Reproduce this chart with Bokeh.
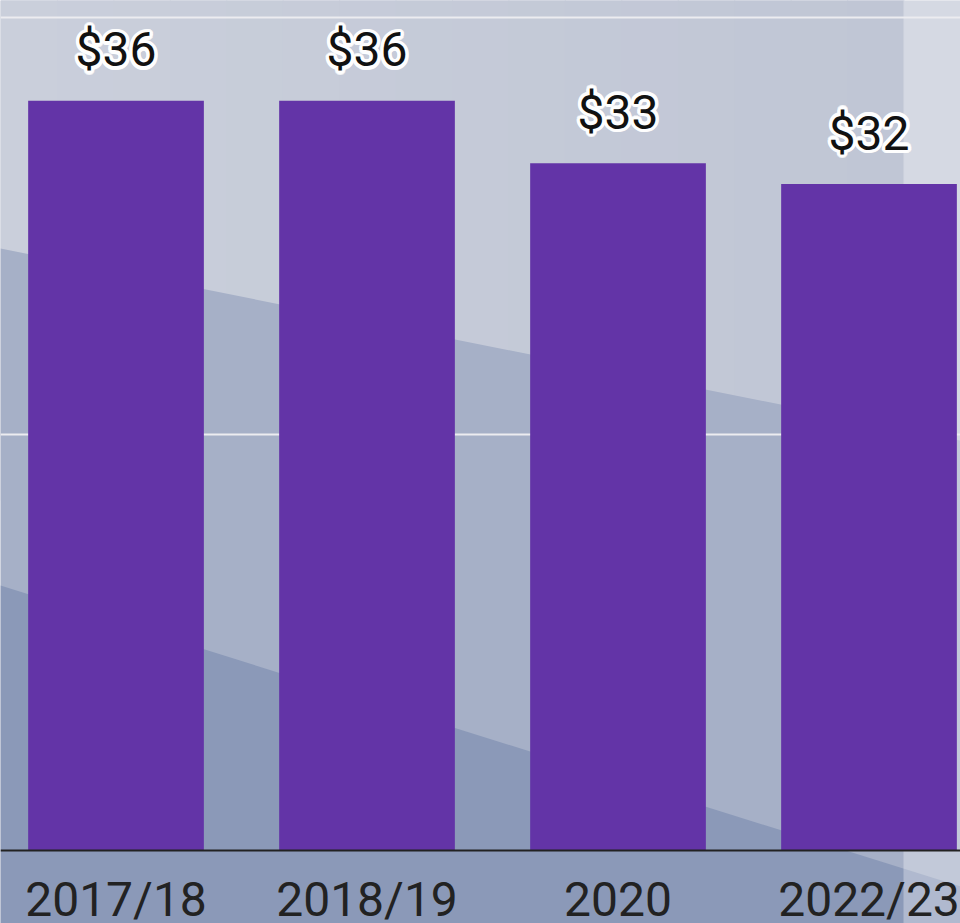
import math
from bokeh.plotting import figure
from bokeh.models import ColumnDataSource, FixedTicker, Grid, Range1d
from bokeh.core.properties import value
from bokeh.embed import file_html
from bokeh.resources import INLINE

# ---- data ----
categories = ["2017/18", "2018/19", "2020", "2022/23"]
values = [36, 36, 33, 32]
value_labels = ["$36", "$36", "$33", "$32"]
grid_values = [20, 40]

# ---- layout ----
W, H = 960, 923
BASE_PX = 850          # pixel row of the value 0
PX_PER_UNIT = 20.825
X_START, X_END = -0.4602, 3.3645
Y_END = BASE_PX / PX_PER_UNIT
Y_START = -(H - BASE_PX) / PX_PER_UNIT

xs = list(range(len(categories)))


def fx(px):
    return X_START + px / W * (X_END - X_START)


def fy(py):
    return Y_END - py / H * (Y_END - Y_START)


p = figure(
    width=W, height=H,
    x_range=Range1d(X_START, X_END), y_range=Range1d(Y_START, Y_END),
    output_backend="svg", toolbar_location=None, y_axis_location=None,
    min_border=0,
    background_fill_color="#c1c7d6", border_fill_color="#8b99b8",
    outline_line_color=None,
)
p.xgrid.visible = False
p.ygrid.visible = False

# decorative background: soft horizontal gradient in the upper area
c0 = (0xCA, 0xCF, 0xDB)
c1 = (0xC0, 0xC6, 0xD5)
n_steps = 16
for k in range(n_steps):
    t = k / (n_steps - 1)
    col = "#%02x%02x%02x" % tuple(round(a + (b - a) * t) for a, b in zip(c0, c1))
    x0 = k * 903 / n_steps
    x1 = (k + 1) * 903 / n_steps + 1
    p.patch([fx(x0), fx(x1), fx(x1), fx(x0)], [fy(-10), fy(-10), fy(500), fy(500)],
            fill_color=col, line_color=None, level="image")

mid_band = dict(x=[fx(0), fx(960), fx(960), fx(0)], y=[fy(248), fy(440), fy(960), fy(960)])
low_band = dict(x=[fx(0), fx(960), fx(960), fx(0)], y=[fy(585), fy(886), fy(960), fy(960)])
strip = dict(x=[fx(903), fx(970), fx(970), fx(903)], y=[fy(-10), fy(-10), fy(960), fy(960)])
p.patch(mid_band["x"], mid_band["y"], fill_color="#a6b0c7", line_color=None, level="image")
p.patch(low_band["x"], low_band["y"], fill_color="#8b99b8", line_color=None, level="image")
p.patch(strip["x"], strip["y"], fill_color="white", fill_alpha=0.32, line_color=None, level="image")

grid = Grid(dimension=1, ticker=FixedTicker(ticks=grid_values),
            grid_line_color="#ececf0", grid_line_width=2, level="underlay")
p.add_layout(grid)

src = ColumnDataSource(dict(x=xs, top=values, label=value_labels, cat=categories))
p.vbar(x="x", top="top", width=0.7, source=src, fill_color="#6334a7", line_color=None)

# white halo behind the value labels
LABEL_DY = -51
for k in range(16):
    a = 2 * math.pi * k / 16
    for r in (2.0, 3.5):
        p.text(x="x", y="top", text="label", source=src,
               text_align="center", text_baseline="alphabetic",
               x_offset=r * math.cos(a), y_offset=LABEL_DY + r * math.sin(a),
               text_font=value("Roboto"), text_font_size="48px",
               text_color="white", text_alpha=0.8)
p.text(x="x", y="top", text="label", source=src,
       text_align="center", text_baseline="alphabetic", y_offset=LABEL_DY,
       text_font=value("Roboto"), text_font_size="48px", text_color="#111111")

ax = p.xaxis[0]
ax.fixed_location = 0
ax.ticker = FixedTicker(ticks=xs)
ax.major_label_overrides = {i: c for i, c in enumerate(categories)}
ax.axis_line_color = "#222222"
ax.axis_line_width = 2
ax.major_tick_line_color = None
ax.major_tick_out = 0
ax.major_tick_in = 0
ax.minor_tick_line_color = None
ax.major_label_text_font = "Roboto"
ax.major_label_text_font_size = "48px"
ax.major_label_text_color = "#222222"
ax.major_label_standoff = 20

open("out.html", "w").write(file_html(p, INLINE))
